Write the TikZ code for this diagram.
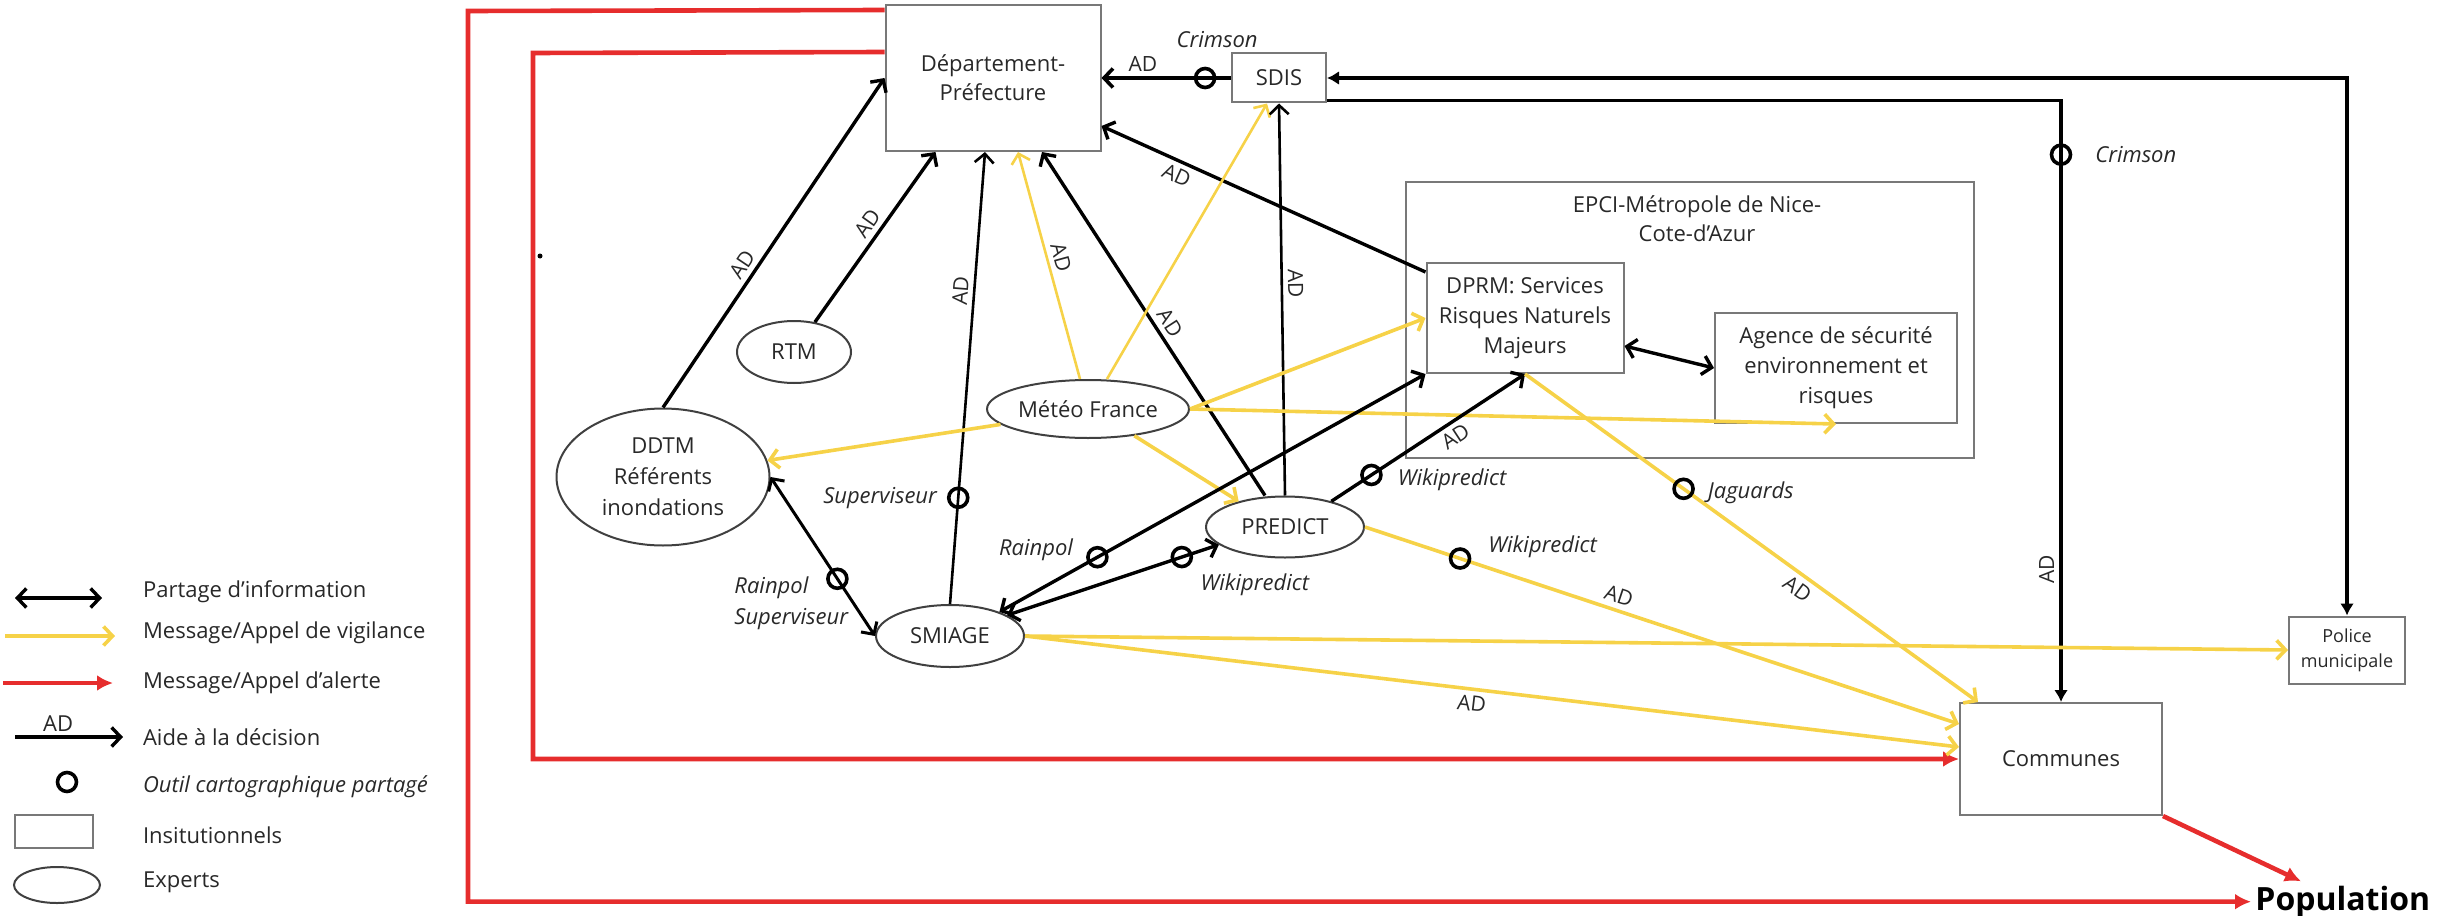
\documentclass[tikz,border=0pt]{standalone}
\usepackage{fontspec}
\setmainfont{Open Sans}
\usetikzlibrary{shapes.geometric,arrows.meta,calc}
\definecolor{yel}{RGB}{246,210,72}
\definecolor{alr}{RGB}{230,45,45}
\definecolor{boxgray}{RGB}{120,120,120}
\definecolor{txt}{RGB}{40,40,40}
\begin{document}
\begin{tikzpicture}[x=0.5pt,y=-0.5pt, >={Straight Barb[length=4.5pt,width=9.5pt]},
 font=\fontsize{11}{14.5}\selectfont, text=txt,
 inst/.style={draw=boxgray,line width=1pt,rectangle,align=center,inner sep=1pt},
 expert/.style={draw=black!75,line width=1pt,ellipse,align=center,inner sep=0pt},
 bl/.style={draw=black,line width=1.7pt,->},
 bbl/.style={draw=black,line width=1.7pt,<->},
 yl/.style={draw=yel,line width=1.8pt,->},
 rl/.style={draw=alr,line width=2.3pt,-{Latex[length=8pt,width=8pt]}},
 fl/.style={draw=black,line width=1.8pt},
 mk/.style={draw=black,line width=1.8pt,circle,minimum size=9.5pt,inner sep=0pt},
 tool/.style={font=\fontsize{11}{15.5}\selectfont\itshape},
 ad/.style={font=\fontsize{10.5}{12}\selectfont,sloped,inner sep=2.5pt},
]
\useasboundingbox (0,0) rectangle (2445,915);

% ---------- nodes ----------
\node[inst,minimum width=107.5pt,minimum height=73pt] (dep) at (993,78) {Département-\\Préfecture};
\node[inst,minimum width=47pt,minimum height=24.5pt] (sdis) at (1279,78) {SDIS};
\node[draw=boxgray,line width=1pt,minimum width=284pt,minimum height=138pt] (epci) at (1690,320) {};
\node[align=center] (epcit) at (1697,219) {EPCI-Métropole de Nice-\\Cote-d’Azur};
\node[inst,minimum width=98.5pt,minimum height=55pt,font=\fontsize{11}{15}\selectfont] (dprm) at (1525,318) {DPRM: Services\\Risques Naturels\\Majeurs};
\node[inst,minimum width=121pt,minimum height=55pt,font=\fontsize{11}{15}\selectfont] (agence) at (1836,368) {Agence de sécurité\\environnement et\\risques};
\node[inst,minimum width=58pt,minimum height=33.5pt,font=\fontsize{9}{12.5}\selectfont] (police) at (2347,650) {Police\\municipale};
\node[inst,minimum width=101pt,minimum height=56pt] (communes) at (2061,759) {Communes};

\node[expert,minimum width=57pt,minimum height=31pt] (rtm) at (794,352) {RTM};
\node[expert,minimum width=106.5pt,minimum height=68.5pt,font=\fontsize{11}{15.5}\selectfont] (ddtm) at (663,477) {DDTM\\Référents\\inondations};
\node[expert,minimum width=101pt,minimum height=29pt,inner xsep=-3pt] (meteo) at (1088,409) {Météo France};
\node[expert,minimum width=79pt,minimum height=30.5pt] (predict) at (1285,527) {PREDICT};
\node[expert,minimum width=74pt,minimum height=31pt] (smiage) at (950,636) {SMIAGE};

\node[anchor=base west,font=\fontsize{16}{18}\selectfont\bfseries,text=black,inner sep=2pt] (population) at (2251,910) {Population};

\fill[black] (540,256) circle [radius=2.5];

% ---------- red alert lines ----------
\coordinate (rc1) at (533,53);
\coordinate (rc2) at (468,11);
\draw[rl] ($(dep.north west)+(0,48)$) -- (rc1) |- (communes.west);
\draw[rl] ($(dep.north west)+(0,6)$) -- (rc2) |- (population.west);
\draw[rl] (communes.south east) -- ($(population.north west)+(50,0)$);

% ---------- to Departement ----------
\draw[bl] (ddtm.north) -- (dep.west) node[ad,pos=0.41,above]{AD};
\draw[bl] (rtm.55) -- ($(dep.south west)+(51,0)$) node[ad,pos=0.53,above]{AD};
\draw[bl,line width=1.3pt] (smiage.north) -- ($(dep.south)+(-8,0)$)
  node[mk,pos=0.235](mk1){} node[ad,pos=0.69,above]{AD};
\node[tool,anchor=east] (lsup) at ($(mk1.west)+(-3,0)$) {Superviseur};
\draw[yl,line width=1.3pt] ($(meteo.north)+(-8,0)$) -- ($(dep.south)+(25,0)$) node[ad,pos=0.52,above]{AD};
\draw[bl] ($(predict.north)+(-20,0)$) -- ($(dep.south)+(49,0)$) node[ad,pos=0.48,above]{AD};
\draw[bl] ($(dprm.north west)+(0,10)$) -- ($(dep.south east)+(0,-26)$) node[ad,pos=0.75,below]{AD};
\draw[bl,line width=1.8pt] (sdis.west) -- (dep.east) node[mk,pos=0.2](mk2){} node[ad,pos=0.68,above]{AD};
\node[tool] (lcr1) at ($(mk2)+(12,-38)$) {Crimson};

% ---------- SDIS ----------
\draw[yl,line width=1.3pt] ($(meteo.north)+(19,0)$) -- ($(sdis.south)+(-12,0)$);
\draw[bl,line width=1.3pt] (predict.north) -- (sdis.south) node[ad,pos=0.54,above]{AD};
\draw[fl,{Latex[length=6pt,width=7pt]}-{Latex[length=6pt,width=7pt]}] (sdis.east) -| (police.north);
\draw[fl,-{Latex[length=6pt,width=7pt]}] ($(sdis.south east)+(0,-3)$) -| (communes.north)
  node[mk,pos=0.545](mk3){}
  node[pos=0.89,rotate=90,anchor=south,font=\fontsize{10.5}{12}\selectfont,inner sep=2.5pt]{AD};
\node[tool,anchor=west] (lcr2) at ($(mk3.east)+(16,0)$) {Crimson};

% ---------- Meteo France ----------
\draw[yl] (meteo.east) -- (dprm.west);
\draw[yl] (meteo.east) -- (agence.south);
\draw[yl] (meteo.190) -- (ddtm.9);
\draw[yl] (meteo.-30) -- (predict.151);

% ---------- information sharing ----------
\draw[bbl,line width=1.5pt] (ddtm.east) -- (smiage.west) node[mk,pos=0.64](mk4){};
\node[tool,anchor=west,align=left] (lrs) at ($(mk4)+(-110,25)$) {Rainpol\\Superviseur};
\draw[bbl] (smiage.26) -- (dprm.south west) node[mk,pos=0.23](mk5){};
\node[tool,anchor=east] (lrp) at ($(mk5.west)+(-6,-7)$) {Rainpol};
\draw[bbl] (smiage.20) -- (predict.195) node[mk,pos=0.825](mk6){};
\node[tool] (lwk1) at ($(mk6)+(73,28)$) {Wikipredict};
\draw[bbl] ($(dprm.south east)+(0,-28)$) -- (agence.west);

% ---------- PREDICT / DPRM ----------
\draw[bl] (predict.29) -- (dprm.south) node[mk,pos=0.207](mk7){} node[ad,pos=0.6,below]{AD};
\node[tool,anchor=west] (lwk2) at ($(mk7.east)+(8,5)$) {Wikipredict};
\draw[yl] (predict.east) -- ($(communes.north west)+(0,22)$) node[mk,pos=0.16](mk8){} node[ad,pos=0.42,above]{AD};
\node[tool,anchor=west] (lwk3) at ($(mk8.east)+(10,-12)$) {Wikipredict};
\draw[yl] (dprm.south) -- ($(communes.north west)+(19,0)$) node[mk,pos=0.35](mk9){} node[ad,pos=0.62,below]{AD};
\node[tool,anchor=west] (ljg) at ($(mk9.east)+(6,4)$) {Jaguards};

% ---------- SMIAGE ----------
\draw[yl] (smiage.east) -- (police.west);
\draw[yl] (smiage.east) -- ($(communes.west)+(0,-12)$) node[ad,pos=0.48,below]{AD};

% ---------- legend ----------
\coordinate (la1) at (15,598); \coordinate (lb1) at (102,598);
\coordinate (la2) at (5,636);  \coordinate (lb2) at (115,636);
\coordinate (la3) at (3,683);  \coordinate (lb3) at (113,683);
\coordinate (la4) at (15,737); \coordinate (lb4) at (123,737);
\draw[bbl] (la1) -- (lb1);
\draw[yl] (la2) -- (lb2);
\draw[rl] (la3) -- (lb3);
\draw[bl] (la4) -- (lb4) node[pos=0.4,above,inner sep=2pt]{AD};
\node[mk] (lmk) at (67,782) {};
\node[inst,minimum width=39pt,minimum height=16.5pt] (lrect) at (54,831) {};
\node[expert,minimum width=43pt,minimum height=18pt] (lell) at (57,885) {};
\node[anchor=west] (lt1) at (136,592) {Partage d’information};
\node[anchor=west] (lt2) at (136,633) {Message/Appel de vigilance};
\node[anchor=west] (lt3) at (136,683) {Message/Appel d’alerte};
\node[anchor=west] (lt4) at (136,737) {Aide à la décision};
\node[anchor=west,font=\fontsize{11}{14}\selectfont\itshape] (lt5) at (136,787) {Outil cartographique partagé};
\node[anchor=west] (lt6) at (136,835) {Insitutionnels};
\node[anchor=west] (lt7) at (136,882) {Experts};
\end{tikzpicture}
\end{document}
